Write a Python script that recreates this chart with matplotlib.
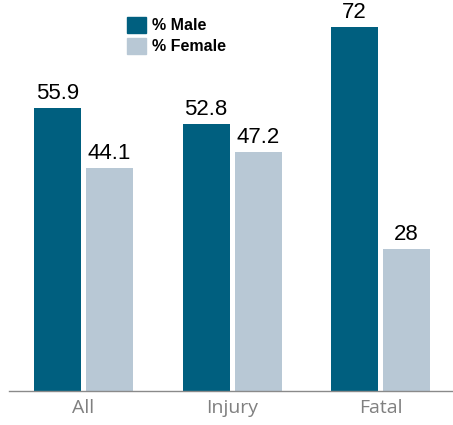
import matplotlib
matplotlib.use("Agg")
import matplotlib.pyplot as plt
from matplotlib.patches import Patch
import numpy as np

categories = ["All", "Injury", "Fatal"]
male = [55.9, 52.8, 72]
female = [44.1, 47.2, 28]
male_labels = ["55.9", "52.8", "72"]
female_labels = ["44.1", "47.2", "28"]

W, H = 453, 425
fig = plt.figure(figsize=(W / 100, H / 100), dpi=100)
base_y = 390.5
ax = fig.add_axes([9 / W, (H - base_y) / H, (W - 9) / W, base_y / H])

px = 148.5
c0 = 83.5
ax.set_xlim((9 - c0) / px, (453 - c0) / px)
ppu = (base_y - 27) / 72.0
ax.set_ylim(0, base_y / ppu)

x = np.arange(len(categories))
bw = 47 / px
gap = 5 / px
off = (bw + gap) / 2
mcol = "#005F7F"
fcol = "#B8C8D5"
ax.bar(x - off, male, width=bw, color=mcol)
ax.bar(x + off, female, width=bw, color=fcol)

numfont = dict(family=["Liberation Sans", "DejaVu Sans"], fontsize=16, color="black")
for xi, v, l in zip(x - off, male, male_labels):
    ax.annotate(l, (xi, v), xytext=(0, 4), textcoords="offset pixels", ha="center", va="bottom", **numfont)
for xi, v, l in zip(x + off, female, female_labels):
    ax.annotate(l, (xi, v), xytext=(0, 4), textcoords="offset pixels", ha="center", va="bottom", **numfont)

for s in ["top", "right", "left"]:
    ax.spines[s].set_visible(False)
ax.spines["bottom"].set_color("#8a8a8a")
ax.spines["bottom"].set_linewidth(1)
ax.set_yticks([])
ax.set_xticks(x)
ax.set_xticklabels(categories, family="Open Sans", fontsize=14, color="#808080")
ax.tick_params(axis="x", length=0, pad=6)

handles = [Patch(color=mcol), Patch(color=fcol)]
leg = fig.legend(handles, ["% Male", "% Female"], loc="upper left",
                 bbox_to_anchor=(127 / W, 1 - 17 / H), frameon=False,
                 prop=dict(family="Liberation Sans", weight="bold", size=11.5),
                 handlelength=1.2, handleheight=1.15, handletextpad=0.35,
                 labelspacing=0.3, borderpad=0, borderaxespad=0)

fig.savefig("out.png", dpi=100)
